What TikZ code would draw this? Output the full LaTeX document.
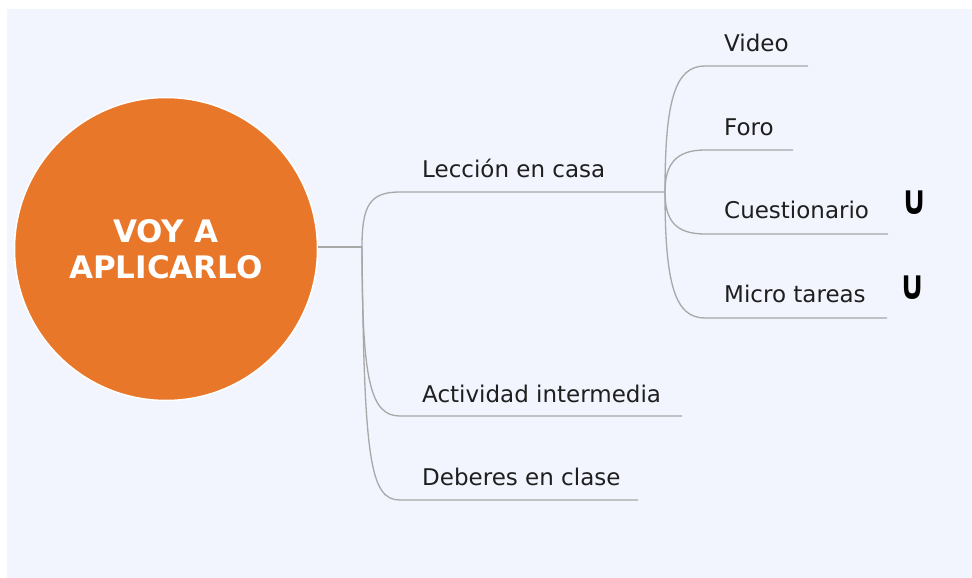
\documentclass[tikz,border=0pt]{standalone}
\usepackage{fontspec}
\setmainfont{DejaVu Sans}
\definecolor{bgblue}{HTML}{F2F5FE}
\definecolor{mainorange}{HTML}{E9772A}
\definecolor{linegray}{HTML}{A8A8A8}
\begin{document}
\begin{tikzpicture}[x=1pt,y=-1pt,
  branch/.style={draw=linegray,line width=1.3pt},
  label/.style={anchor=base west,inner sep=0pt,font=\fontsize{23}{27}\selectfont,text=black!88},
  usign/.style={anchor=center,inner sep=0pt,font=\fontsize{34}{36}\selectfont,text=black}]
\useasboundingbox (0,0) rectangle (972,578);
\fill[white] (0,0) rectangle (972,578);
\fill[bgblue] (7,9) rectangle (972,578);
% central node
\node[circle,fill=mainorange,draw=white,line width=1.5pt,minimum size=303pt,inner sep=0pt,
      align=center,text=white,font=\bfseries\fontsize{31}{36}\selectfont] (root) at (166,249) {VOY A\\APLICARLO};
% coordinates
\coordinate (hub) at (362,247);
\coordinate (l1s) at (400,192);
\coordinate (l1e) at (665,192);
\coordinate (l2s) at (400,416);
\coordinate (l2e) at (682,416);
\coordinate (l3s) at (400,500);
\coordinate (l3e) at (638,500);
\coordinate (s1s) at (705,66);
\coordinate (s1e) at (808,66);
\coordinate (s2s) at (705,150);
\coordinate (s2e) at (793,150);
\coordinate (s3s) at (705,234);
\coordinate (s3e) at (888,234);
\coordinate (s4s) at (705,318);
\coordinate (s4e) at (887,318);
% connectors
\draw[branch] (root.east |- hub) -- (hub);
\draw[branch] (hub) .. controls (362,205) and (370,192) .. (l1s) -- (l1e);
\draw[branch] (hub) .. controls (362,380) and (370,416) .. (l2s) -- (l2e);
\draw[branch] (hub) .. controls (364,460) and (370,500) .. (l3s) -- (l3e);
\draw[branch] (l1e) .. controls (665,100) and (675,66) .. (s1s) -- (s1e);
\draw[branch] (l1e) .. controls (665,165) and (675,150) .. (s2s) -- (s2e);
\draw[branch] (l1e) .. controls (665,220) and (675,234) .. (s3s) -- (s3e);
\draw[branch] (l1e) .. controls (665,285) and (675,318) .. (s4s) -- (s4e);
% labels
\node[label] (leccion) at (422,177) {Lección en casa};
\node[label] (actividad) at (422,402) {Actividad intermedia};
\node[label] (deberes) at (422,485) {Deberes en clase};
\node[label] (video) at (724,52) {Video};
\node[label] (foro) at (724,135) {Foro};
\node[label] (cuest) at (724,218) {Cuestionario};
\node[label] (micro) at (724,302) {Micro tareas};
\node[usign] (u1) at (915,203) {\textbf{\scalebox{0.95}[1.2]{∪}}};
\node[usign] (u2) at (913,288) {\textbf{\scalebox{0.95}[1.2]{∪}}};
\end{tikzpicture}
\end{document}
